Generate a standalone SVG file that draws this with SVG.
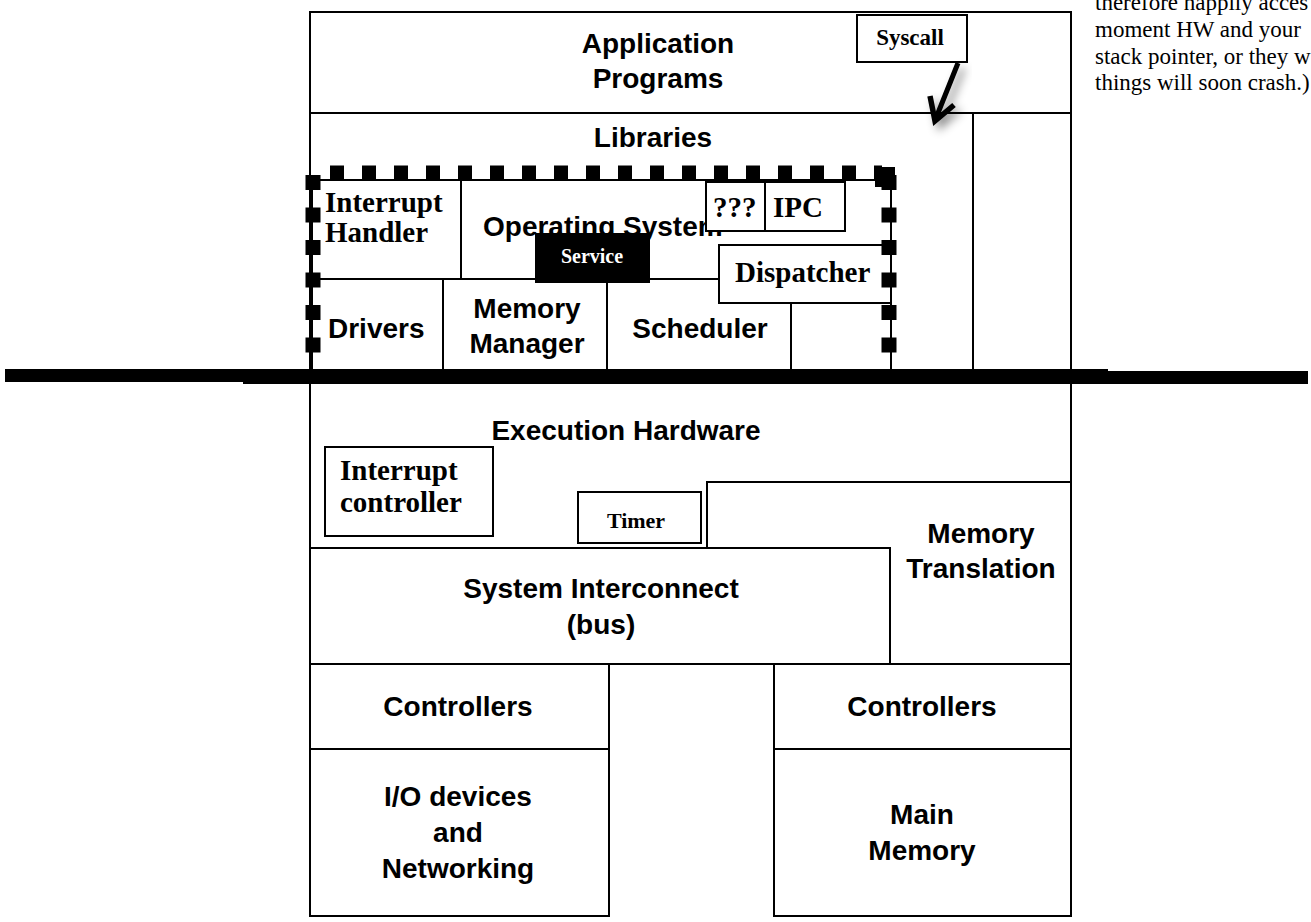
<svg xmlns="http://www.w3.org/2000/svg" width="1311" height="922" viewBox="0 0 1311 922">
<defs>
<style>
.box{fill:#fff;stroke:#000;stroke-width:2}
.ln{fill:none;stroke:#000;stroke-width:2}
.s{font-family:"Liberation Sans",Arial,sans-serif;font-weight:bold;font-size:28px;fill:#000}
.c{text-anchor:middle}
.r{font-family:"Liberation Serif","Times New Roman",serif;font-weight:bold;font-size:29px;fill:#000}
.n{font-family:"Liberation Serif","Times New Roman",serif;font-size:23px;fill:#000}
.dash{fill:none;stroke:#000;stroke-width:15}
</style>
<filter id="sh" x="-50%" y="-50%" width="200%" height="200%">
<feDropShadow dx="5" dy="5" stdDeviation="5" flood-color="#000" flood-opacity="0.45"/>
</filter>
</defs>
<rect width="1311" height="922" fill="#fff"/>

<g id="app">
<rect class="box" x="310" y="12" width="761" height="101"/>
<text class="s c" x="658" y="53">Application</text>
<text class="s c" x="658" y="88">Programs</text>
</g>

<g id="libraries">
<rect class="box" x="310" y="113" width="663" height="260"/>
<line class="ln" x1="1071" y1="113" x2="1071" y2="373"/>
<text class="s c" x="653" y="147">Libraries</text>
</g>

<g id="os">
<rect class="box" x="312" y="180" width="579" height="192"/>
<text class="s" x="483" y="236">Operating System</text>
</g>
<g id="interrupt-handler">
<rect class="box" x="312" y="180" width="149" height="99"/>
<text class="r" x="325" y="212">Interrupt</text>
<text class="r" x="325" y="242">Handler</text>
</g>
<g id="drivers">
<rect class="box" x="312" y="279" width="131" height="93"/>
<text class="s" x="328" y="338">Drivers</text>
</g>
<g id="memory-manager">
<rect class="box" x="443" y="279" width="164" height="93"/>
<text class="s c" x="527" y="318">Memory</text>
<text class="s c" x="527" y="353">Manager</text>
</g>
<g id="scheduler">
<rect class="box" x="607" y="279" width="184" height="93"/>
<text class="s c" x="700" y="338">Scheduler</text>
</g>
<g id="empty-cell">
<rect class="box" x="791" y="303" width="100" height="69"/>
</g>
<g id="unknown">
<rect class="box" x="706" y="182" width="59" height="49"/>
<text class="r" x="713" y="217">???</text>
</g>
<g id="ipc">
<rect class="box" x="765" y="182" width="80" height="49"/>
<text class="r" x="773" y="217">IPC</text>
</g>
<g id="dispatcher">
<rect class="box" x="719" y="245" width="172" height="58"/>
<text class="r" x="735" y="282">Dispatcher</text>
</g>
<g id="service">
<rect x="535" y="233" width="115" height="50" fill="#000"/>
<text class="r c" x="592" y="263" style="font-size:20px;fill:#fff">Service</text>
</g>

<g id="kernel-boundary">
<line class="dash" x1="313" y1="173" x2="882" y2="173" stroke-dasharray="14 18" stroke-dashoffset="15"/>
<rect x="875" y="167" width="20" height="20" fill="#000"/>
<line class="dash" x1="313" y1="175" x2="313" y2="372" stroke-dasharray="15 17.5"/>
<line class="dash" x1="889" y1="175" x2="889" y2="372" stroke-dasharray="15 17.5"/>
</g>

<g id="separator">
<rect x="5" y="369" width="1103" height="13" fill="#000"/>
<rect x="243" y="371" width="1065" height="13" fill="#000"/>
</g>

<g id="execution-hardware">
<rect class="box" x="310" y="383" width="761" height="165"/>
<text class="s c" x="626" y="440">Execution Hardware</text>
</g>
<g id="interrupt-controller">
<rect class="box" x="325" y="447" width="168" height="89"/>
<text class="r" x="340" y="480">Interrupt</text>
<text class="r" x="340" y="512">controller</text>
</g>
<g id="timer">
<rect class="box" x="578" y="492" width="123" height="51"/>
<text class="r c" x="636" y="528" style="font-size:22px">Timer</text>
</g>
<g id="memory-translation">
<rect class="box" x="707" y="482" width="364" height="182"/>
<text class="s c" x="981" y="543">Memory</text>
<text class="s c" x="981" y="578">Translation</text>
</g>
<g id="system-interconnect">
<rect class="box" x="310" y="548" width="580" height="116"/>
<text class="s c" x="601" y="598">System Interconnect</text>
<text class="s c" x="601" y="634">(bus)</text>
</g>

<g id="io-controllers">
<rect class="box" x="310" y="664" width="299" height="85"/>
<text class="s c" x="458" y="716">Controllers</text>
</g>
<g id="io-devices">
<rect class="box" x="310" y="749" width="299" height="167"/>
<text class="s c" x="458" y="806">I/O devices</text>
<text class="s c" x="458" y="842">and</text>
<text class="s c" x="458" y="878">Networking</text>
</g>
<g id="mem-controllers">
<rect class="box" x="774" y="664" width="297" height="85"/>
<text class="s c" x="922" y="716">Controllers</text>
</g>
<g id="main-memory">
<rect class="box" x="774" y="749" width="297" height="167"/>
<text class="s c" x="922" y="824">Main</text>
<text class="s c" x="922" y="860">Memory</text>
</g>

<g id="syscall">
<rect class="box" x="857" y="15" width="110" height="47"/>
<text class="r c" x="910" y="45" style="font-size:23px">Syscall</text>
</g>

<g id="connectors">
<g filter="url(#sh)">
<line x1="958" y1="63" x2="936" y2="118" stroke="#000" stroke-width="5"/>
<polyline points="930,96 935,121 954,105" fill="none" stroke="#000" stroke-width="5.5" stroke-linejoin="miter"/>
</g>
</g>

<g id="note">
<text class="n" x="1095" y="10">therefore happily acces</text>
<text class="n" x="1095" y="37">moment HW and your</text>
<text class="n" x="1095" y="64">stack pointer, or they w</text>
<text class="n" x="1095" y="90">things will soon crash.)</text>
</g>
</svg>
